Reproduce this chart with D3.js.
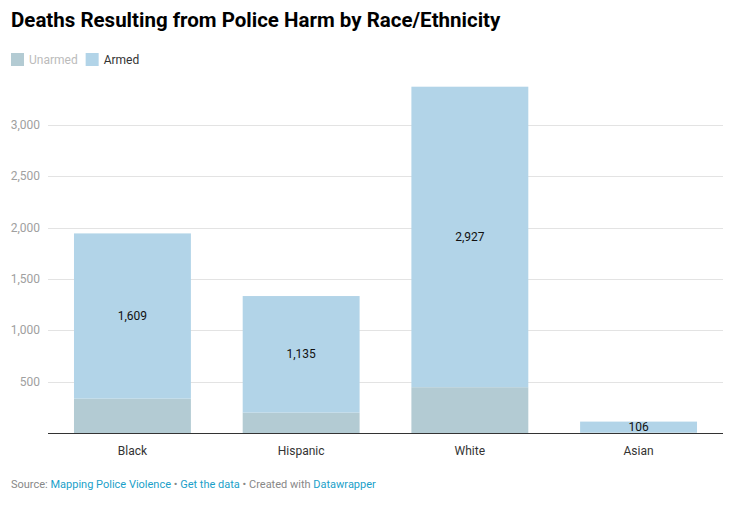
<!DOCTYPE html>
<html>
<head>
  <meta charset="utf-8">
  <title>Deaths Resulting from Police Harm by Race/Ethnicity</title>
  <script src="https://d3js.org/d3.v7.min.js"></script>
  <style>
    body { margin: 0; background: #fff; font-family: Roboto, "Noto Sans", sans-serif; }
    .title { font-weight: 700; font-size: 20.5px; fill: #000; }
    .legend-text { font-size: 12px; }
    .y-tick { font-size: 12px; fill: #a0a0a0; }
    .x-tick { font-size: 12px; fill: #333; }
    .val { font-size: 12px; font-weight: 400; fill: #111; }
    .footer { font-size: 11px; fill: #888; }
    .footer .link { fill: #1b9fc9; }
  </style>
</head>
<body>
  <svg id="chart" width="755" height="512"></svg>
  <script>
    // chart values
    const races = ["Black", "Hispanic", "White", "Asian"];
    const unarmed = [335, 199, 446, 5];
    const armed = [1609, 1135, 2927, 106];
    const yTicks = [500, 1000, 1500, 2000, 2500, 3000];
    const seriesNames = ["Unarmed", "Armed"];
    const seriesColors = ["#b3cbd3", "#b2d4e8"];

    const svg = d3.select("#chart");
    const margin = { left: 48, right: 32, top: 88, bottom: 79 };
    const width = 755, height = 512;

    // title
    svg.append("text").attr("class", "title")
      .attr("x", 11).attr("y", 27)
      .text("Deaths Resulting from Police Harm by Race/Ethnicity");

    // legend
    const legend = svg.append("g").attr("transform", "translate(11,53)");
    let lx = 0;
    seriesNames.forEach((name, i) => {
      legend.append("rect").attr("x", lx).attr("y", 0)
        .attr("width", 13).attr("height", 13)
        .attr("fill", seriesColors[i]);
      const t = legend.append("text").attr("class", "legend-text")
        .attr("x", lx + 18).attr("y", 11)
        .attr("fill", i === 0 ? "#bbbbbb" : "#333")
        .text(name);
      lx += 18 + t.node().getComputedTextLength() + 8;
    });

    const x = d3.scaleBand()
      .domain(races)
      .range([margin.left, width - margin.right])
      .paddingInner(0.307)
      .paddingOuter(0.154);

    const y = d3.scaleLinear()
      .domain([0, 3000])
      .range([height - margin.bottom, 125]);

    // gridlines
    const grid = svg.append("g");
    grid.selectAll("line").data(yTicks).enter().append("line")
      .attr("x1", margin.left).attr("x2", width - margin.right)
      .attr("y1", d => Math.round(y(d)) + 0.5).attr("y2", d => Math.round(y(d)) + 0.5)
      .attr("stroke", "#e3e3e3").attr("stroke-width", 1);
    grid.selectAll("text").data(yTicks).enter().append("text")
      .attr("class", "y-tick")
      .attr("x", 40).attr("y", d => y(d) + 4)
      .attr("text-anchor", "end")
      .text(d => d3.format(",")(d));

    // stacked bars
    const rows = races.map((r, i) => ({ race: r, Unarmed: unarmed[i], Armed: armed[i] }));
    const stacked = d3.stack().keys(seriesNames)(rows);

    svg.append("g").selectAll("g").data(stacked).enter().append("g")
      .attr("fill", (d, i) => seriesColors[i])
      .selectAll("rect").data(d => d).enter().append("rect")
      .attr("x", d => x(d.data.race))
      .attr("width", x.bandwidth())
      .attr("y", d => y(d[1]))
      .attr("height", d => y(d[0]) - y(d[1]));

    // value labels for armed segment
    const armedLayer = stacked[1];
    svg.append("g").selectAll("text").data(armedLayer).enter().append("text")
      .attr("class", "val")
      .attr("text-anchor", "middle")
      .attr("x", d => x(d.data.race) + x.bandwidth() / 2)
      .attr("y", d => (y(d[0]) + y(d[1])) / 2 + 4)
      .text(d => d3.format(",")(d.data.Armed));

    // baseline axis
    svg.append("line")
      .attr("x1", margin.left).attr("x2", width - margin.right)
      .attr("y1", y(0) + 0.5).attr("y2", y(0) + 0.5)
      .attr("stroke", "#333").attr("stroke-width", 1.2);

    svg.append("g").selectAll("text").data(races).enter().append("text")
      .attr("class", "x-tick")
      .attr("text-anchor", "middle")
      .attr("x", d => x(d) + x.bandwidth() / 2)
      .attr("y", y(0) + 22)
      .text(d => d);

    // footer
    const foot = svg.append("text").attr("class", "footer").attr("x", 11).attr("y", 488);
    foot.append("tspan").text("Source: ");
    foot.append("tspan").attr("class", "link").text("Mapping Police Violence");
    foot.append("tspan").text(" \u2022 ");
    foot.append("tspan").attr("class", "link").text("Get the data");
    foot.append("tspan").text(" \u2022 Created with ");
    foot.append("tspan").attr("class", "link").text("Datawrapper");
  </script>
</body>
</html>
